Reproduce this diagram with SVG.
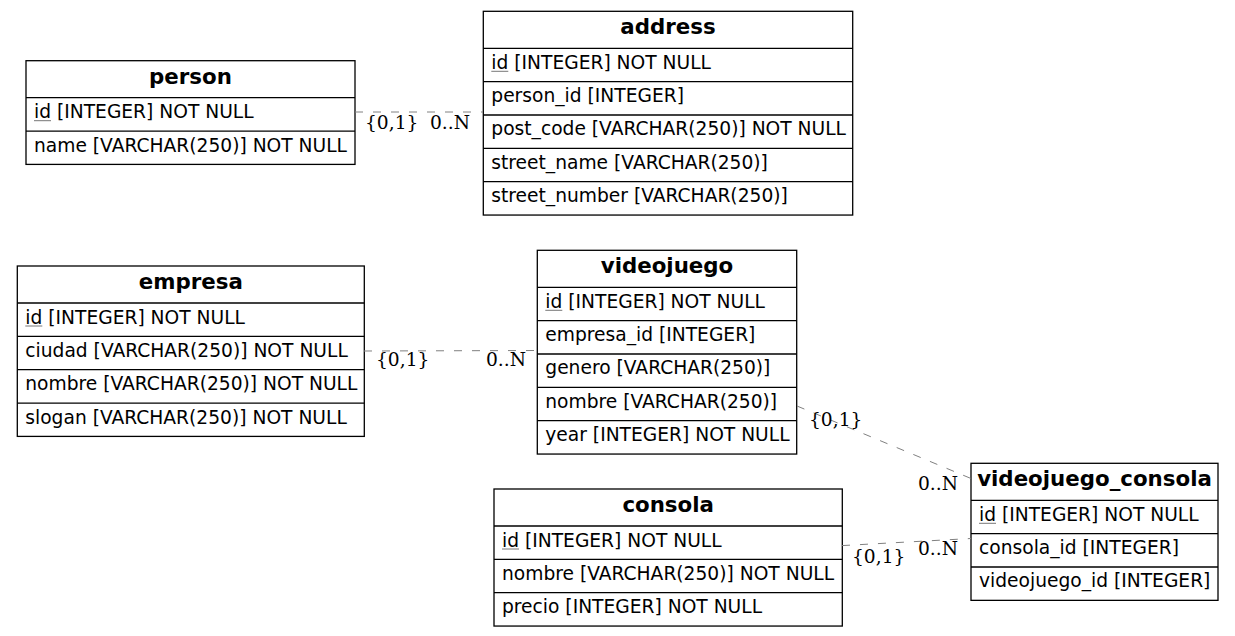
<svg xmlns="http://www.w3.org/2000/svg" width="1235" height="636" viewBox="0 0 1235 636">
<style>
.box{fill:#fff;stroke:#000;stroke-width:1.3}
.sep{stroke:#000;stroke-width:1.3}
.hd{font-family:"DejaVu Sans",sans-serif;font-weight:bold;font-size:21.33px;text-anchor:middle;fill:#000}
.rw{font-family:"DejaVu Sans",sans-serif;font-size:18.67px;fill:#000}
.ul{stroke:#777;stroke-width:1}
.edge{fill:none;stroke:#808080;stroke-width:1;stroke-dasharray:8,10}
.lbl{font-family:"DejaVu Serif",serif;font-size:18.67px;fill:#000}
</style>
<rect width="1235" height="636" fill="#fff"/>
<g id="person" transform="translate(26,60.7)">
<rect class="box" x="0" y="0" width="329" height="103.7"/>
<line class="sep" x1="0" y1="37" x2="329" y2="37"/>
<line class="sep" x1="0" y1="70.35" x2="329" y2="70.35"/>
<text class="hd" x="164.5" y="23">person</text>
<text class="rw" x="8" y="57.5">id [INTEGER] NOT NULL</text>
<line class="ul" x1="8" y1="60" x2="25" y2="60"/>
<text class="rw" x="8" y="90.85">name [VARCHAR(250)] NOT NULL</text>
</g>
<g id="address" transform="translate(483.3,11.3)">
<rect class="box" x="0" y="0" width="369.4" height="203.75"/>
<line class="sep" x1="0" y1="37" x2="369.4" y2="37"/>
<line class="sep" x1="0" y1="70.35" x2="369.4" y2="70.35"/>
<line class="sep" x1="0" y1="103.7" x2="369.4" y2="103.7"/>
<line class="sep" x1="0" y1="137.05" x2="369.4" y2="137.05"/>
<line class="sep" x1="0" y1="170.4" x2="369.4" y2="170.4"/>
<text class="hd" x="184.7" y="23">address</text>
<text class="rw" x="8" y="57.5">id [INTEGER] NOT NULL</text>
<line class="ul" x1="8" y1="60" x2="25" y2="60"/>
<text class="rw" x="8" y="90.85">person_id [INTEGER]</text>
<text class="rw" x="8" y="124.2">post_code [VARCHAR(250)] NOT NULL</text>
<text class="rw" x="8" y="157.55">street_name [VARCHAR(250)]</text>
<text class="rw" x="8" y="190.9">street_number [VARCHAR(250)]</text>
</g>
<g id="empresa" transform="translate(17.3,266)">
<rect class="box" x="0" y="0" width="347" height="170.4"/>
<line class="sep" x1="0" y1="37" x2="347" y2="37"/>
<line class="sep" x1="0" y1="70.35" x2="347" y2="70.35"/>
<line class="sep" x1="0" y1="103.7" x2="347" y2="103.7"/>
<line class="sep" x1="0" y1="137.05" x2="347" y2="137.05"/>
<text class="hd" x="173.5" y="23">empresa</text>
<text class="rw" x="8" y="57.5">id [INTEGER] NOT NULL</text>
<line class="ul" x1="8" y1="60" x2="25" y2="60"/>
<text class="rw" x="8" y="90.85">ciudad [VARCHAR(250)] NOT NULL</text>
<text class="rw" x="8" y="124.2">nombre [VARCHAR(250)] NOT NULL</text>
<text class="rw" x="8" y="157.55">slogan [VARCHAR(250)] NOT NULL</text>
</g>
<g id="videojuego" transform="translate(537.3,250.3)">
<rect class="box" x="0" y="0" width="259.4" height="203.75"/>
<line class="sep" x1="0" y1="37" x2="259.4" y2="37"/>
<line class="sep" x1="0" y1="70.35" x2="259.4" y2="70.35"/>
<line class="sep" x1="0" y1="103.7" x2="259.4" y2="103.7"/>
<line class="sep" x1="0" y1="137.05" x2="259.4" y2="137.05"/>
<line class="sep" x1="0" y1="170.4" x2="259.4" y2="170.4"/>
<text class="hd" x="129.7" y="23">videojuego</text>
<text class="rw" x="8" y="57.5">id [INTEGER] NOT NULL</text>
<line class="ul" x1="8" y1="60" x2="25" y2="60"/>
<text class="rw" x="8" y="90.85">empresa_id [INTEGER]</text>
<text class="rw" x="8" y="124.2">genero [VARCHAR(250)]</text>
<text class="rw" x="8" y="157.55">nombre [VARCHAR(250)]</text>
<text class="rw" x="8" y="190.9">year [INTEGER] NOT NULL</text>
</g>
<g id="consola" transform="translate(494,489)">
<rect class="box" x="0" y="0" width="348.3" height="137.05"/>
<line class="sep" x1="0" y1="37" x2="348.3" y2="37"/>
<line class="sep" x1="0" y1="70.35" x2="348.3" y2="70.35"/>
<line class="sep" x1="0" y1="103.7" x2="348.3" y2="103.7"/>
<text class="hd" x="174.15" y="23">consola</text>
<text class="rw" x="8" y="57.5">id [INTEGER] NOT NULL</text>
<line class="ul" x1="8" y1="60" x2="25" y2="60"/>
<text class="rw" x="8" y="90.85">nombre [VARCHAR(250)] NOT NULL</text>
<text class="rw" x="8" y="124.2">precio [INTEGER] NOT NULL</text>
</g>
<g id="videojuego_consola" transform="translate(971,463.3)">
<rect class="box" x="0" y="0" width="247" height="137.05"/>
<line class="sep" x1="0" y1="37" x2="247" y2="37"/>
<line class="sep" x1="0" y1="70.35" x2="247" y2="70.35"/>
<line class="sep" x1="0" y1="103.7" x2="247" y2="103.7"/>
<text class="hd" x="123.5" y="23">videojuego_consola</text>
<text class="rw" x="8" y="57.5">id [INTEGER] NOT NULL</text>
<line class="ul" x1="8" y1="60" x2="25" y2="60"/>
<text class="rw" x="8" y="90.85">consola_id [INTEGER]</text>
<text class="rw" x="8" y="124.2">videojuego_id [INTEGER]</text>
</g>
<g id="connectors">
<path class="edge" d="M355,112 L483,112"/>
<text class="lbl" x="365" y="129">{0,1}</text>
<text class="lbl" x="430" y="129">0..N</text>
<path class="edge" d="M364,351 L537,350.5"/>
<text class="lbl" x="376" y="366">{0,1}</text>
<text class="lbl" x="486" y="366">0..N</text>
<path class="edge" d="M797,406 L971,478.5"/>
<text class="lbl" x="809" y="426">{0,1}</text>
<text class="lbl" x="918" y="490">0..N</text>
<path class="edge" d="M842,545.6 L971,538.5"/>
<text class="lbl" x="852" y="563">{0,1}</text>
<text class="lbl" x="918" y="555">0..N</text>
</g>
</svg>
